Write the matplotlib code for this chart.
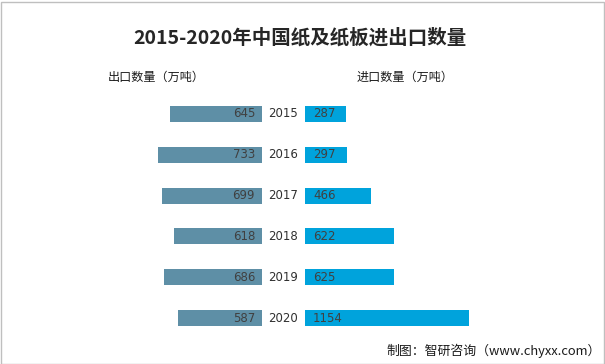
import matplotlib
matplotlib.use('Agg')
import matplotlib.pyplot as plt
from matplotlib.patches import Rectangle

plt.rcParams['font.family'] = ['Noto Sans CJK SC', 'DejaVu Sans']

years = ['2015', '2016', '2017', '2018', '2019', '2020']
export_vals = [645, 733, 699, 618, 686, 587]
import_vals = [287, 297, 466, 622, 625, 1154]

W, H = 605, 364
fig = plt.figure(figsize=(W / 100, H / 100), dpi=100)

def px_axes(x0, y0, x1, y1):
    # pixel box (top-left origin) -> figure axes
    return fig.add_axes([x0 / W, 1 - y1 / H, (x1 - x0) / W, (y1 - y0) / H])

scale = 0.1425  # pixels per unit
top, bottom = 93.6, 338.4
axl = px_axes(40, top, 262, bottom)
axr = px_axes(305, top, 560, bottom)

pos = list(range(len(years)))
axl.barh(pos, export_vals, height=0.39, color='#5e8fa6')
axr.barh(pos, import_vals, height=0.39, color='#00a3dc')

axl.set_xlim(222 / scale, 0)
axr.set_xlim(0, 255 / scale)
for ax in (axl, axr):
    ax.set_ylim(5.5, -0.5)
    ax.axis('off')

for i in pos:
    axl.text(7 / scale, i, str(export_vals[i]), ha='right', va='center',
             fontsize=8.5, color='#404040', family='DejaVu Sans')
    axr.text(8 / scale, i, str(import_vals[i]), ha='left', va='center',
             fontsize=8.5, color='#404040', family='DejaVu Sans')
    axr.text(-22 / scale, i, years[i], ha='center', va='center',
             fontsize=8.5, color='#303030', family='DejaVu Sans', clip_on=False)

fig.text(300 / W, 1 - 38 / H, '2015-2020年中国纸及纸板进出口数量', ha='center', va='center',
         fontsize=14, fontweight='bold', color='#262626')
fig.text(108 / W, 1 - 77 / H, '出口数量（万吨）', ha='left', va='center', fontsize=8.7, color='#1a1a1a')
fig.text(357 / W, 1 - 77 / H, '进口数量（万吨）', ha='left', va='center', fontsize=8.7, color='#1a1a1a')
fig.text(601 / W, 1 - 351 / H, '制图：智研咨询（www.chyxx.com）', ha='right', va='center',
         fontsize=9.3, color='#1a1a1a')

fig.patches.append(Rectangle((0.5 / W, 0.5 / H), 1 - 2 / W, 1 - 2 / H, transform=fig.transFigure,
                             fill=False, edgecolor='#bfbfbf', linewidth=1))

fig.savefig('out.png', dpi=100)
